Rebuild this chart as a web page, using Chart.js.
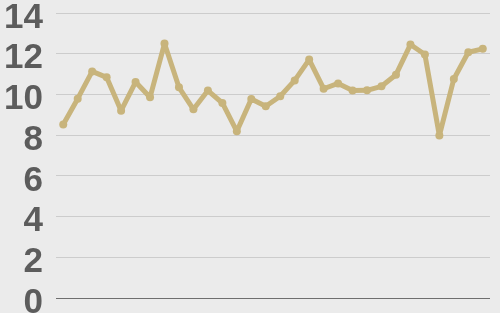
<!DOCTYPE html>
<html lang="en">
<head>
  <meta charset="UTF-8">
  <title>Line chart</title>
  <script src="https://cdn.jsdelivr.net/npm/chart.js"></script>
  <style>
    html, body {
      margin: 0;
      padding: 0;
      background: #ebebeb;
    }
    .wrap {
      width: 500px;
      height: 313px;
    }
  </style>
</head>
<body>
  <div class="wrap">
    <canvas id="lineChart"></canvas>
  </div>

  <script>
    const labels = [
      "1", "2", "3", "4", "5", "6", "7", "8", "9", "10",
      "11", "12", "13", "14", "15", "16", "17", "18", "19", "20",
      "21", "22", "23", "24", "25", "26", "27", "28", "29", "30"
    ];
    const values = [
      8.52, 9.79, 11.13, 10.84, 9.2, 10.61, 9.86, 12.5, 10.35, 9.27,
      10.19, 9.58, 8.19, 9.78, 9.42, 9.91, 10.69, 11.71, 10.28, 10.54,
      10.19, 10.2, 10.4, 10.97, 12.45, 11.96, 7.98, 10.76, 12.07, 12.24
    ];
    const yTicks = [0, 2, 4, 6, 8, 10, 12, 14];

    const lineColor = "#c8b47c";

    const ctx = document.getElementById("lineChart").getContext("2d");
    new Chart(ctx, {
      type: "line",
      data: {
        labels: labels,
        datasets: [{
          data: values,
          borderColor: lineColor,
          backgroundColor: lineColor,
          borderWidth: 5,
          borderJoinStyle: "round",
          borderCapStyle: "round",
          pointRadius: 4,
          pointBorderWidth: 0,
          tension: 0,
          fill: false
        }]
      },
      options: {
        responsive: true,
        maintainAspectRatio: false,
        animation: false,
        layout: {
          padding: { left: 3, right: 10, top: 13, bottom: 15 }
        },
        plugins: {
          legend: { display: false },
          tooltip: { enabled: false }
        },
        scales: {
          x: {
            display: false,
            offset: true
          },
          y: {
            min: 0,
            max: 14,
            afterBuildTicks: (scale) => {
              scale.ticks = yTicks.map(v => ({ value: v }));
            },
            afterFit: (scale) => {
              // keep the plot area where the reference has it
              scale.width = 53;
              scale.paddingTop = 0;
              scale.paddingBottom = 0;
            },
            border: { display: false },
            grid: {
              drawTicks: false,
              lineWidth: 1,
              color: (c) => c.tick && c.tick.value === 0 ? "#6e6e6e" : "#cccccc"
            },
            ticks: {
              padding: 13,
              labelOffset: 5,
              color: "#5c5c5c",
              font: {
                family: "'Liberation Sans', Arial, sans-serif",
                size: 35,
                weight: "bold",
                lineHeight: 0.6
              }
            }
          }
        }
      }
    });
  </script>
</body>
</html>
